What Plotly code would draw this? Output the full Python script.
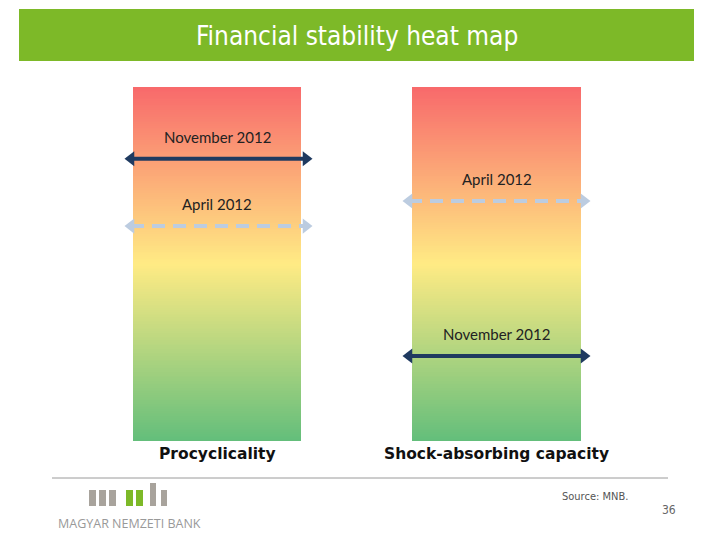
import numpy as np
import plotly.graph_objects as go

# ---- data ----
title = "Financial stability heat map"
columns = ["Procyclicality", "Shock-absorbing capacity"]
periods = ["November 2012", "April 2012"]
# position of each period on the 0 (green, low risk) .. 100 (red, high risk) scale
levels = {
    "Procyclicality": {"November 2012": 79.7, "April 2012": 60.7},
    "Shock-absorbing capacity": {"April 2012": 67.8, "November 2012": 24.0},
}
source_text = "Source: MNB."
page_no = "36"
bank_name = "MAGYAR NEMZETI BANK"

# ---- layout constants (pixels) ----
W, H = 720, 540
TOP_PX, BOT_PX = 87, 441
PX_PER = (BOT_PX - TOP_PX) / 100.0
def lvl(pix):
    return (BOT_PX - pix) / PX_PER
def py(pix):
    return 1 - pix / H

col_edges = {"Procyclicality": (133, 301), "Shock-absorbing capacity": (412, 581)}
arrow_ends = {"Procyclicality": (131, 306), "Shock-absorbing capacity": (409, 584)}
styles = {
    "November 2012": dict(color="#1F3A60", dash="solid"),
    "April 2012": dict(color="#BCCCE0", dash="13px,8px"),
}

fig = go.Figure()

# gradient columns
edges = np.linspace(0, 100, 201)
centers = (edges[:-1] + edges[1:]) / 2
cscale = [[0, "#63BE7B"], [0.5, "#FFEB84"], [1, "#F8696B"]]
for c in columns:
    x0, x1 = col_edges[c]
    fig.add_trace(go.Heatmap(
        x=[x0, x1], y=edges, z=[[v] for v in centers],
        zmin=0, zmax=100, colorscale=cscale, showscale=False, hoverinfo="skip"))

# arrows + labels
for c in columns:
    xa, xb = arrow_ends[c]
    xc = sum(col_edges[c]) / 2
    for p in periods:
        v = levels[c][p]
        st = styles[p]
        fig.add_trace(go.Scatter(
            x=[xa, xb], y=[v, v], mode="lines+markers",
            line=dict(color=st["color"], width=4, dash=st["dash"]),
            marker=dict(symbol=["triangle-left", "triangle-right"], size=13,
                        color=st["color"]),
            showlegend=False, hoverinfo="skip"))
        fig.add_annotation(x=xc, y=v + 22 / PX_PER, text=p, showarrow=False,
                           font=dict(family="Lato", size=15, color="#222222"))
    fig.add_annotation(x=xc, y=lvl(454), text="<b>%s</b>" % c, showarrow=False,
                       font=dict(family="DejaVu Sans", size=15.5, color="#111111"))

shapes = []
# title bar
shapes.append(dict(type="rect", xref="paper", yref="paper", x0=19 / W, x1=694 / W,
                   y0=py(61), y1=py(9), fillcolor="#7DB928", line=dict(width=0), layer="below"))
# footer line
shapes.append(dict(type="line", xref="paper", yref="paper", x0=52 / W, x1=668 / W,
                   y0=py(478), y1=py(478), line=dict(color="#9A9A9A", width=1)))
# logo bars
GRAY, GREEN = "#A8A39C", "#7DB928"
bars = [(89, 96, 490, GRAY), (99, 106, 490, GRAY), (109, 116, 490, GRAY),
        (126, 133, 490, GREEN), (136, 143, 490, GREEN),
        (150, 156, 483, GRAY), (161, 167, 490, GRAY)]
for x0, x1, top, col in bars:
    shapes.append(dict(type="rect", xref="paper", yref="paper", x0=x0 / W, x1=x1 / W,
                       y0=py(506), y1=py(top), fillcolor=col, line=dict(width=0)))

annotations = [
    dict(xref="paper", yref="paper", x=357 / W, y=py(36), text=title, showarrow=False,
         xanchor="center", yanchor="middle",
         font=dict(family="DejaVu Sans Condensed, DejaVu Sans", size=26, color="white")),
    dict(xref="paper", yref="paper", x=129 / W, y=py(523), text=bank_name, showarrow=False,
         xanchor="center", yanchor="middle",
         font=dict(family="Open Sans", size=12.5, color="#999999")),
    dict(xref="paper", yref="paper", x=560 / W, y=py(496), text=source_text, showarrow=False,
         xanchor="left", yanchor="middle",
         font=dict(family="DejaVu Sans Condensed, DejaVu Sans", size=11, color="#555555")),
    dict(xref="paper", yref="paper", x=678 / W, y=py(510), text=page_no, showarrow=False,
         xanchor="right", yanchor="middle",
         font=dict(family="DejaVu Sans Condensed, DejaVu Sans", size=12, color="#666666")),
]
for a in annotations:
    fig.add_annotation(**a)

fig.update_layout(
    width=W, height=H, margin=dict(l=0, r=0, t=0, b=0),
    paper_bgcolor="white", plot_bgcolor="white", showlegend=False,
    xaxis=dict(range=[0, W], visible=False, fixedrange=True),
    yaxis=dict(range=[lvl(H), lvl(0)], visible=False, fixedrange=True),
    shapes=shapes,
)
fig.write_html("out.html", config={"displayModeBar": False},
               post_script="document.body.style.margin='0';document.body.style.padding='0';")
